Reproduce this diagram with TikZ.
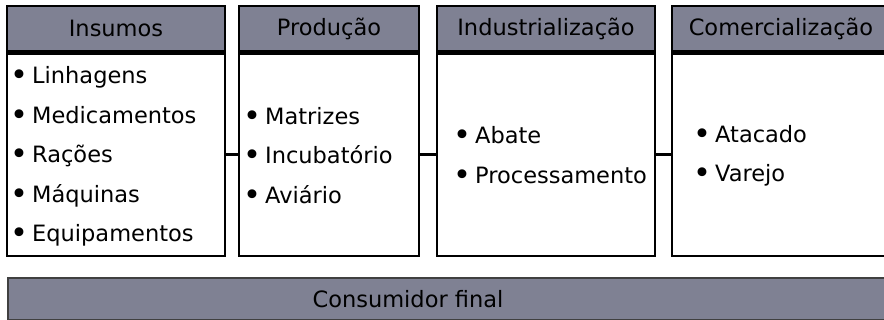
\documentclass[tikz,border=0pt]{standalone}
\usepackage{fontspec}
\setmainfont{DejaVu Sans}
\usetikzlibrary{positioning}
\definecolor{cabeca}{HTML}{7F8193}
\definecolor{bordabarra}{HTML}{404040}
\newcommand\marca{\raisebox{-0.09em}{\scalebox{1.35}{•}}\hspace{0.18em}}

\begin{document}
\begin{tikzpicture}[x=1pt,y=-1pt,
    cab/.style={draw,line width=2.6pt,fill=cabeca,minimum height=45.5pt,inner sep=0pt,outer sep=0pt,anchor=north west,font=\fontsize{22.5}{27}\selectfont},
    caixa/.style={draw,line width=2.6pt,fill=white,minimum height=202.5pt,inner sep=0pt,outer sep=0pt},
    lista/.style={anchor=west,align=left,inner sep=0pt,font=\fontsize{22.5}{39.5}\selectfont},
    fio/.style={line width=2.6pt}]
    \useasboundingbox (0,0) rectangle (884,320);
    \clip (0,0) rectangle (884,320);

    % cabecalhos
    \node[cab,minimum width=218pt] (hIns) at (7,6) {Insumos};
    \node[cab,minimum width=180pt] (hProd) at (239,6) {Produção};
    \node[cab,minimum width=218pt] (hInd) at (437,6) {Industrialização};
    \node[cab,minimum width=218pt] (hCom) at (672,6) {Comercialização};

    % caixas
    \node[caixa,minimum width=218pt,below=2pt of hIns] (ins) {};
    \node[caixa,minimum width=180pt,below=2pt of hProd] (prod) {};
    \node[caixa,minimum width=218pt,below=2pt of hInd] (ind) {};
    \node[caixa,minimum width=218pt,below=2pt of hCom] (com) {};

    \node[lista] (lIns) at ([xshift=3pt,yshift=-2pt]ins.west) {\marca Linhagens\\\marca Medicamentos\\\marca Rações\\\marca Máquinas\\\marca Equipamentos};
    \node[lista] (lProd) at ([xshift=4pt,yshift=-1.5pt]prod.west) {\marca Matrizes\\\marca Incubatório\\\marca Aviário};
    \node[lista] (lInd) at ([xshift=16pt,yshift=-1pt]ind.west) {\marca Abate\\\marca Processamento};
    \node[lista] (lCom) at ([xshift=21pt,yshift=-1pt]com.west) {\marca Atacado\\\marca Varejo};

    % ligacoes
    \draw[fio] (ins.east) -- (prod.west);
    \draw[fio] (prod.east) -- (ind.west);
    \draw[fio] (ind.east) -- (com.west);

    % consumidor
    \node[draw=bordabarra,line width=2pt,fill=cabeca,minimum width=890pt,minimum height=42pt,inner sep=0pt,anchor=north west] (cons) at (7,277) {};
    \node[font=\fontsize{22.5}{27}\selectfont,inner sep=0pt] (cf) at ([xshift=401pt]cons.west) {Consumidor final};
\end{tikzpicture}
\end{document}
